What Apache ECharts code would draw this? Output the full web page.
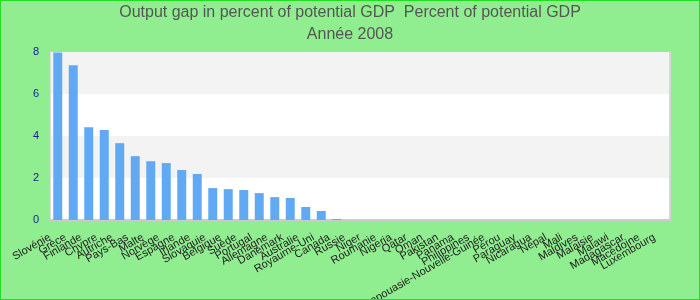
<!DOCTYPE html>
<html><head><meta charset="utf-8">
<script src="https://cdn.jsdelivr.net/npm/echarts@6/dist/echarts.min.js"></script>
<style>
html,body{margin:0;padding:0;background:#90ee90;}
#wrap{position:relative;width:700px;height:300px;}
#c{width:700px;height:300px;}
#frame{position:absolute;left:0;top:0;width:700px;height:300px;box-sizing:border-box;border:1px solid #22dd22;pointer-events:none;}
</style></head>
<body><div id="wrap"><div id="c"></div><div id="frame"></div></div>
<script>
const titleLine1 = 'Output gap in percent of potential GDP  Percent of potential GDP';
const titleLine2 = 'Année 2008';
const categories = ['Slovénie','Grèce','Finlande','Chypre','Autriche','Pays-Bas','Malte','Norvège','Espagne','Irlande','Slovaquie','Belgique','Suède','Portugal','Allemagne','Danemark','Australie','Royaume-Uni','Canada','Russie','Niger','Roumanie','Nigeria','Qatar','Oman','Pakistan','Panama','Philippines','Papouasie-Nouvelle-Guinée','Pérou','Paraguay','Nicaragua','Népal','Mali','Maldives','Malaisie','Malawi','Madagascar','Macédoine','Luxembourg'];
const values = [7.98,7.37,4.42,4.28,3.66,3.04,2.80,2.71,2.38,2.19,1.52,1.47,1.43,1.28,1.09,1.05,0.62,0.43,0.05,0,0,0,0,0,0,0,0,0,0,0,0,0,0,0,0,0,0,0,0,0];
const yTicks = [0,2,4,6,8];

const chart = echarts.init(document.getElementById('c'));
chart.setOption({
  animation:false,
  backgroundColor:'#90ee90',
  title:{text:titleLine1+'\n'+titleLine2,left:'center',top:2,padding:0,
    textStyle:{color:'#555',fontSize:16,fontWeight:'normal',fontFamily:'Liberation Sans',lineHeight:22}},
  grid:{left:50,right:30,top:52,bottom:80,outerBoundsMode:'none',containLabel:false},
  xAxis:{type:'category',data:categories,
    axisLine:{lineStyle:{color:'#cccccc',width:2}},axisTick:{show:false},
    axisLabel:{interval:0,rotate:30,fontSize:11,color:'#222',fontFamily:'Liberation Sans',margin:12,padding:[0,9,0,0]}},
  yAxis:[{type:'value',min:yTicks[0],max:yTicks[yTicks.length-1],interval:2,
    axisLine:{show:true,lineStyle:{color:'#dddddd'}},axisTick:{show:false},
    axisLabel:{color:'#1a1a99',fontSize:11,fontFamily:'Liberation Sans',margin:11},
    splitLine:{show:false},
    splitArea:{show:true,areaStyle:{color:['#ffffff','#f3f3f3']}}},
    {type:'value',min:0,max:8,interval:2,position:'right',
    axisLine:{show:true,lineStyle:{color:'#d6d6d6',width:2}},axisTick:{show:false},axisLabel:{show:false},splitLine:{show:false}}],
  series:[{type:'bar',data:values,barWidth:'58%',itemStyle:{color:'#62a9f4'}}]
});
</script></body></html>
